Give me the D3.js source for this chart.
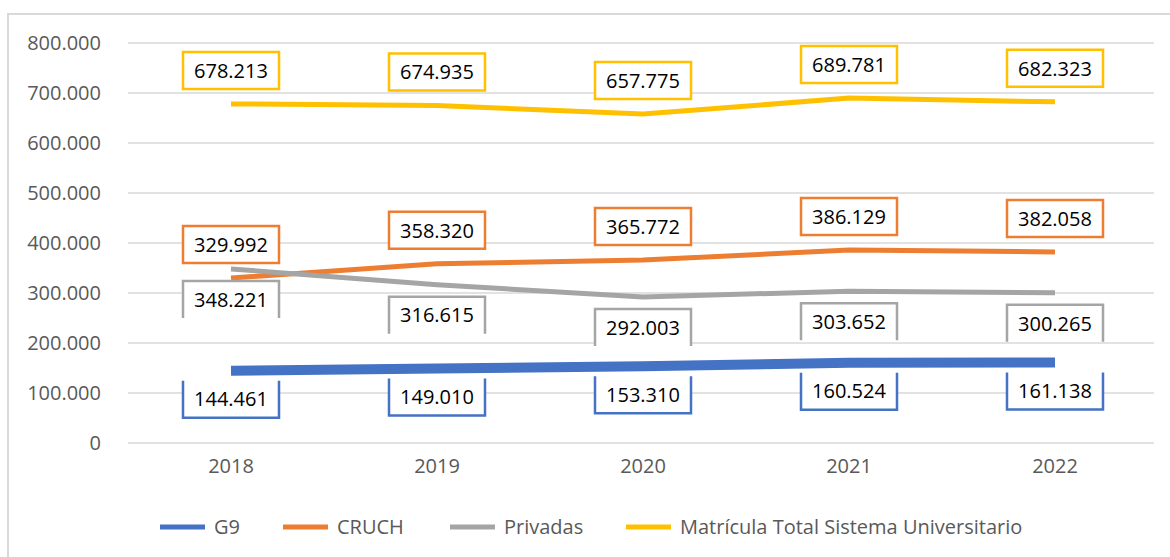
<!DOCTYPE html>
<html>
<head>
<meta charset="utf-8">
<script src="https://cdn.jsdelivr.net/npm/d3@7"></script>
<style>
body { margin: 0; background: #fff; }
text { font-family: "Open Sans", "Liberation Sans", sans-serif; }
</style>
</head>
<body>
<svg id="chart" width="1170" height="557"></svg>
<script>
// data
var years = ["2018", "2019", "2020", "2021", "2022"];
var g9 = [144461, 149010, 153310, 160524, 161138];
var cruch = [329992, 358320, 365772, 386129, 382058];
var privadas = [348221, 316615, 292003, 303652, 300265];
var total = [678213, 674935, 657775, 689781, 682323];
var yTicks = [0, 100000, 200000, 300000, 400000, 500000, 600000, 700000, 800000];

var seriesNames = ["G9", "CRUCH", "Privadas", "Matrícula Total Sistema Universitario"];
var seriesColors = ["#4472C4", "#ED7D31", "#A5A5A5", "#FFC000"];

var svg = d3.select("#chart");

var locale = d3.formatLocale({decimal: ",", thousands: ".", grouping: [3], currency: ["$", ""]});
var fmt = locale.format(",d");

var x = d3.scalePoint().domain(years).range([231, 1055]);
var y = d3.scaleLinear().domain([0, 800000]).range([443, 43]);

// frame
svg.append("path")
	.attr("d", "M8,557 V14 H1170")
	.attr("fill", "none")
	.attr("stroke", "#d9d9d9")
	.attr("stroke-width", 2);

// grid
svg.append("g").selectAll("line")
	.data(yTicks)
	.enter()
	.append("line")
		.attr("x1", 128).attr("x2", 1154)
		.attr("y1", d => y(d)).attr("y2", d => y(d))
		.attr("stroke", "#d9d9d9")
		.attr("stroke-width", 1.5);

// y axis labels
svg.append("g").selectAll("text")
	.data(yTicks)
	.enter()
	.append("text")
		.attr("x", 101)
		.attr("y", d => y(d))
		.attr("dy", "0.35em")
		.attr("text-anchor", "end")
		.attr("font-size", 20)
		.attr("fill", "#595959")
		.text(d => fmt(d));

// x axis labels
svg.append("g").selectAll("text")
	.data(years)
	.enter()
	.append("text")
		.attr("x", d => x(d))
		.attr("y", 466)
		.attr("dy", "0.35em")
		.attr("text-anchor", "middle")
		.attr("font-size", 20)
		.attr("fill", "#595959")
		.text(d => d);

var series = [
	{name: seriesNames[0], color: seriesColors[0], values: g9, width: 10, pos: "below"},
	{name: seriesNames[1], color: seriesColors[1], values: cruch, width: 5, pos: "above"},
	{name: seriesNames[2], color: seriesColors[2], values: privadas, width: 5, pos: "below"},
	{name: seriesNames[3], color: seriesColors[3], values: total, width: 5, pos: "above"}
];

var line = d3.line()
	.x(d => x(d.year))
	.y(d => y(d.value));

// lines
svg.append("g").selectAll("path")
	.data(series)
	.enter()
	.append("path")
		.attr("fill", "none")
		.attr("stroke", d => d.color)
		.attr("stroke-width", d => d.width)
		.attr("d", d => line(d.values.map((v, i) => ({year: years[i], value: v}))));

// data labels
var boxW = 96, boxH = 37;
series.forEach(function(s, si) {
	var g = svg.append("g");
	var lbl = g.selectAll("g")
		.data(s.values.map((v, i) => ({year: years[i], value: v})))
		.enter()
		.append("g")
			.attr("transform", function(d) {
				var py = y(d.value);
				var top = s.pos == "above" ? py - 15 - boxH : (si == 0 ? py + 10 : py + 12);
				return "translate(" + (x(d.year) - boxW / 2) + "," + top + ")";
			});
	lbl.append("rect")
		.attr("width", boxW)
		.attr("height", boxH)
		.attr("fill", "#fff");
	// G9 boxes have no top edge, Privadas boxes no bottom edge (as in the original)
	var border;
	if (si == 0) border = "M0,0 V" + boxH + " H" + boxW + " V0";
	else if (si == 2) border = "M0," + boxH + " V0 H" + boxW + " V" + boxH;
	else border = "M0,0 H" + boxW + " V" + boxH + " H0 Z";
	lbl.append("path")
		.attr("d", border)
		.attr("fill", "none")
		.attr("stroke", s.color)
		.attr("stroke-width", 2.5);
	lbl.append("text")
		.attr("x", boxW / 2)
		.attr("y", boxH / 2)
		.attr("dy", "0.36em")
		.attr("text-anchor", "middle")
		.attr("font-size", 20)
		.attr("fill", "#000")
		.text(d => fmt(d.value));
});

// legend
var legendX = [160, 283, 450, 626];
var leg = svg.append("g").selectAll("g")
	.data(series)
	.enter()
	.append("g")
		.attr("transform", (d, i) => "translate(" + legendX[i] + ",527)");
leg.append("line")
	.attr("x1", 0).attr("x2", 45)
	.attr("stroke", d => d.color)
	.attr("stroke-width", 5);
leg.append("text")
	.attr("x", 54)
	.attr("dy", "0.35em")
	.attr("font-size", 20)
	.attr("fill", "#595959")
	.text(d => d.name);
</script>
</body>
</html>
